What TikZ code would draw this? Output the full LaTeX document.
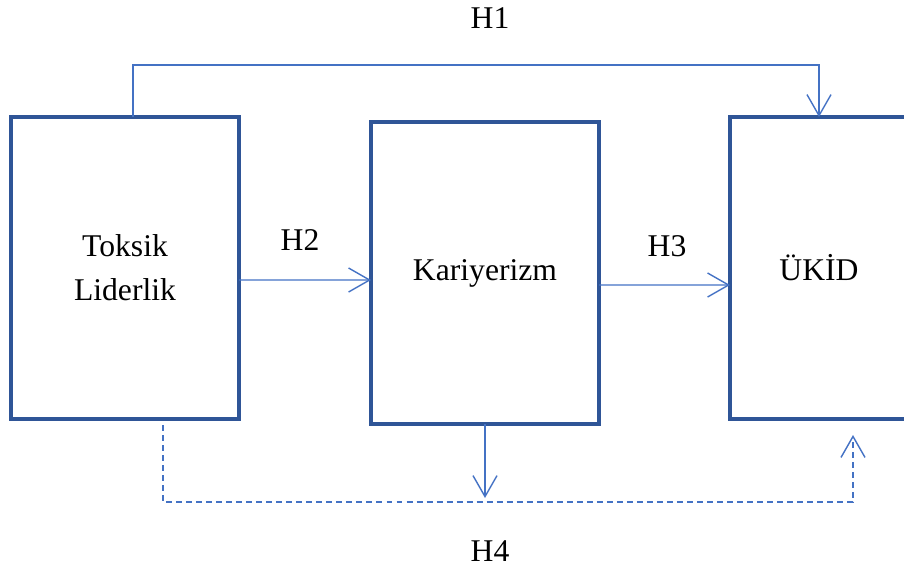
\documentclass[tikz,border=0pt]{standalone}
\usepackage{fontspec}
\setmainfont{Liberation Serif}
\usetikzlibrary{positioning, arrows.meta}
\definecolor{boxblue}{HTML}{2F5597}
\definecolor{lineblue}{HTML}{4472C4}
\tikzset{varbox/.style={draw=boxblue,line width=2pt,minimum width=4.56cm,minimum height=6.04cm,outer sep=0pt,align=center,font=\fontsize{18}{25}\selectfont},
         flow/.style={draw=lineblue,line width=0.8pt,-{Straight Barb[length=4.2mm,width=4.8mm]}},
         hyp/.style={font=\fontsize{18}{22}\selectfont},
        }

\begin{document}
\begin{tikzpicture}
        \clip (0,0) rectangle (18.08,-11.42);
        \useasboundingbox (0,0) rectangle (18.08,-11.42);

        \node[varbox](tl)at(2.5,-5.36){Toksik\\Liderlik};
        \node[varbox](kar)at(9.7,-5.46){Kariyerizm};
        \node[varbox, minimum width=3.56cm](ukid)at(16.38,-5.36){ÜKİD};

        \node[hyp](h1)at(9.8,-0.36){H1};
        \node[hyp](h2)at(6.0,-4.8){H2};
        \node[hyp](h3)at(13.34,-4.92){H3};
        \node[hyp](h4)at(9.8,-11.02){H4};

        \coordinate(h1l)at(2.66,-1.3);
        \draw[flow](h1l |- tl.north)--(h1l)-|(ukid.north);

        \draw[flow]([yshift=-2.4mm]tl.east)--([yshift=-1.4mm]kar.west);
        \draw[flow]([yshift=-2.4mm]kar.east)--([yshift=-3.4mm]ukid.west);

        \coordinate(kd)at(9.7,-9.96);
        \draw[flow](kar.south)--(kd);

        \coordinate(d1)at(3.26,-8.5);
        \coordinate(d2)at(3.26,-10.04);
        \coordinate(d3)at(17.06,-8.7);
        \draw[flow, dash pattern=on 3.4pt off 2.3pt](d1)--(d2)-|(d3);
    \end{tikzpicture}
\end{document}
